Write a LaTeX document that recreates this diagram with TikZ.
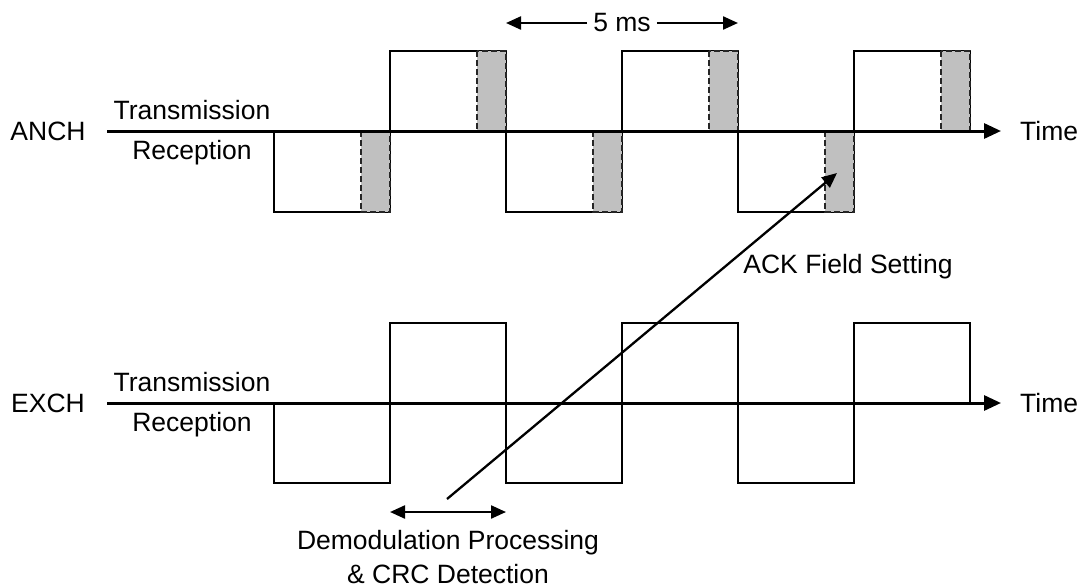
\documentclass[tikz,border=0pt]{standalone}
\usepackage{fontspec}
\setmainfont{Liberation Sans}
\usetikzlibrary{arrows.meta}
\definecolor{slotgray}{RGB}{192,192,192}

\begin{document}
\begin{tikzpicture}[
		x=1pt, y=-1pt,
		wave/.style={draw=black, line width=1.9pt},
		slot/.style={draw=black!85, fill=slotgray, line width=1.7pt, dash pattern=on 6pt off 3pt},
		axis/.style={line width=3pt, -{Triangle[length=17pt, width=15pt]}},
		arr/.style={line width=2.3pt, -{Triangle[length=15pt, width=13pt]}},
		txt/.style={font=\fontsize{26.5}{34}\selectfont, inner sep=1pt}
		]
		\useasboundingbox (0,0) rectangle (1081,587);
		
		% -------------------------------------------------
		% ANCH
		% -------------------------------------------------
		\foreach \x in {390,622,854} {
			\draw[wave] (\x-116,131) rectangle (\x,212);
			\draw[wave] (\x,51) rectangle (\x+116,131);
		}
		\foreach \x in {390,622,854}
		\draw[slot] (\x-29,131) rectangle (\x,212);
		\foreach \x in {506,738,970}
		\draw[slot] (\x-29,51) rectangle (\x,131);
		
		\coordinate (a0) at (107,131);
		\coordinate (a1) at (1001,131);
		\draw[axis] (a0) -- (a1);
		
		\node[txt] (anch) at (48,131) {ANCH};
		\node[txt] (atx) at (192,110) {Transmission};
		\node[txt] (arx) at (192,153) {Reception};
		\node[txt, anchor=west] (atime) at (1019,131) {Time};
		
		% -------------------------------------------------
		% EXCH
		% -------------------------------------------------
		\foreach \x in {390,622,854} {
			\draw[wave] (\x-116,403) rectangle (\x,483);
			\draw[wave] (\x,323) rectangle (\x+116,403);
		}
		
		\coordinate (e0) at (107,403);
		\coordinate (e1) at (1001,403);
		\draw[axis] (e0) -- (e1);
		
		\node[txt] (exch) at (48,403) {EXCH};
		\node[txt] (etx) at (192,382) {Transmission};
		\node[txt] (erx) at (192,425) {Reception};
		\node[txt, anchor=west] (etime) at (1019,403) {Time};
		
		% -------------------------------------------------
		% 5 ms period
		% -------------------------------------------------
		\node[txt, inner sep=6pt] (ms) at (622,23) {5 ms};
		\coordinate (msl) at (506,23);
		\coordinate (msr) at (738,23);
		\draw[arr] (ms.west) -- (msl);
		\draw[arr] (ms.east) -- (msr);
		
		% -------------------------------------------------
		% Demodulation and ACK
		% -------------------------------------------------
		\coordinate (dl) at (390,512);
		\coordinate (dr) at (506,512);
		\draw[arr, {Triangle[length=15pt, width=13pt]}-{Triangle[length=15pt, width=13pt]}] (dl) -- (dr);
		\node[txt, align=center, anchor=south] (demod) at (448,585) {Demodulation Processing\\ \& CRC Detection};
		
		\coordinate (ds) at (447,499);
		\coordinate (ack) at (837,173);
		\draw[arr] (ds) -- (ack);
		\node[txt] (acktxt) at (848,267) {ACK Field Setting};
		
	\end{tikzpicture}
\end{document}
